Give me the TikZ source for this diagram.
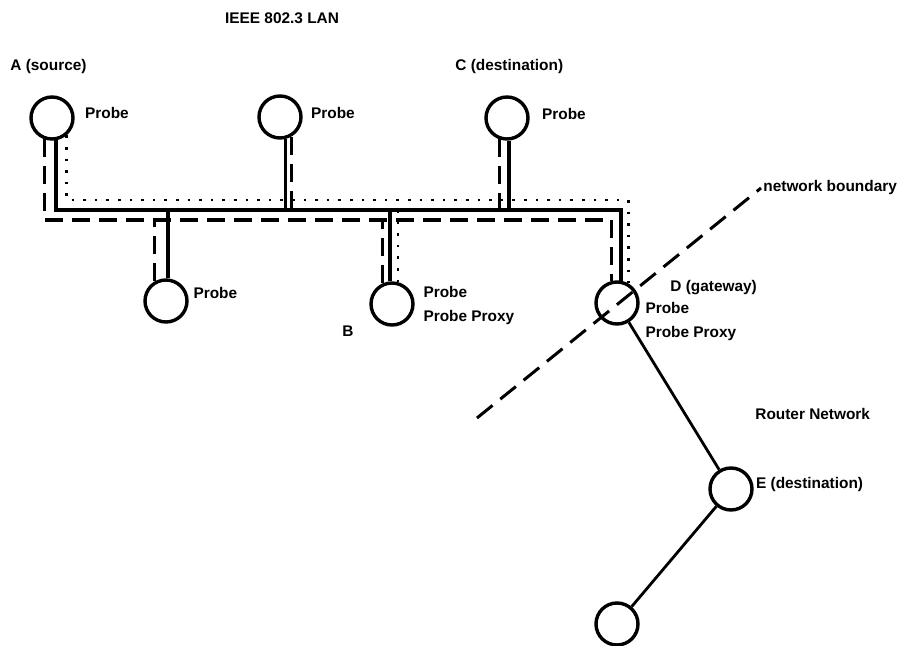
\documentclass[tikz,border=0pt]{standalone}
\usepackage{fontspec}
\setmainfont{Liberation Sans}
\usepackage{tikz}
\usetikzlibrary{positioning, calc}

\begin{document}
\begin{tikzpicture}[
        x=0.5pt, y=-0.5pt,
        host/.style={circle, draw=black, line width=1.7pt, minimum size=21pt, inner sep=0pt},
        tag/.style={inner sep=1pt, align=left, font=\bfseries\fontsize{7.7}{12}\selectfont},
        wire/.style={line width=1.6pt, draw=black},
        dashwire/.style={line width=1.6pt, draw=black, dash pattern=on 9pt off 4.5pt},
        dotwire/.style={line width=1.3pt, draw=black, dash pattern=on 1.3pt off 4.5pt},
        link/.style={line width=1.4pt, draw=black},
        border/.style={line width=1.5pt, draw=black, dash pattern=on 10pt off 5pt},
    ]
        \useasboundingbox (0,0) rectangle (900,646);

        % Stations on the LAN
        \node[host] (a) at (52,118) {};
        \node[host] (n2) at (280,117) {};
        \node[host] (c) at (507,118) {};
        \node[host] (p1) at (166,301) {};
        \node[host] (b) at (392,304) {};
        \node[host] (d) at (617,303) {};

        % Router network
        \node[host] (e) at (731,489) {};
        \node[host] (f) at (617,624) {};

        % Bus heights
        \coordinate (obus) at (0,200);
        \coordinate (sbus) at (0,210);
        \coordinate (dbus) at (0,220);

        % Labels
        \node[tag] (title) at (282,18) {IEEE 802.3 LAN};
        \node[tag, anchor=west] (asrc) at (8,67) {A (source)};
        \node[tag, anchor=west] (cdst) at (453,67) {C (destination)};
        \node[tag, right=4pt of a, yshift=2.5pt] (aprobe) {Probe};
        \node[tag, right=3pt of n2, yshift=2pt] (n2probe) {Probe};
        \node[tag, right=5pt of c, yshift=2pt] (cprobe) {Probe};
        \node[tag, right=1.2pt of p1, yshift=4pt] (p1probe) {Probe};
        \node[tag, right=3.2pt of b, yshift=-1pt] (bprobe) {Probe\\Probe Proxy};
        \node[tag] (blabel) at (348,331) {B};
        \node[tag, anchor=west] (dgw) at (668,288) {D (gateway)};
        \node[tag, right=1.7pt of d, yshift=-9.5pt] (dprobe) {Probe\\Probe Proxy};
        \node[tag, anchor=west] (nb) at (761,188) {network boundary};
        \node[tag, anchor=west] (rnet) at (753,414) {Router Network};
        \node[tag, right=0pt of e, yshift=2pt] (edst) {E (destination)};

        % Solid bus
        \draw[wire] (a.-80) -- (a.-80 |- sbus) -| (d.80);
        \draw[wire] (n2.-75) -- (n2.-75 |- sbus);
        \draw[wire] (c.-85) -- (c.-85 |- sbus);
        \draw[wire] (p1.85) -- (p1.85 |- sbus);
        \draw[wire] (b.95) -- (b.95 |- sbus);

        % Dashed bus
        \draw[dashwire] (a.-110) -- (a.-110 |- dbus) -| (d.105);
        \draw[dashwire] (n2.-60) -- (n2.-60 |- dbus);
        \draw[dashwire] (c.-110) -- (c.-110 |- dbus);
        \draw[dashwire] (p1.120) -- (p1.120 |- dbus);
        \draw[dashwire] (b.115) -- (b.115 |- dbus);

        % Dotted bus
        \draw[dotwire] (a.-50) -- (a.-50 |- obus) -| (d.60);
        \draw[dotwire] (b.75 |- sbus) -- (b.75);

        % Router links
        \draw[link] (d) -- (e);
        \draw[link] (e) -- (f);

        % Network boundary
        \coordinate (bnd) at (477,418);
        \draw[border] (bnd) -- (nb.west);
    \end{tikzpicture}
\end{document}
